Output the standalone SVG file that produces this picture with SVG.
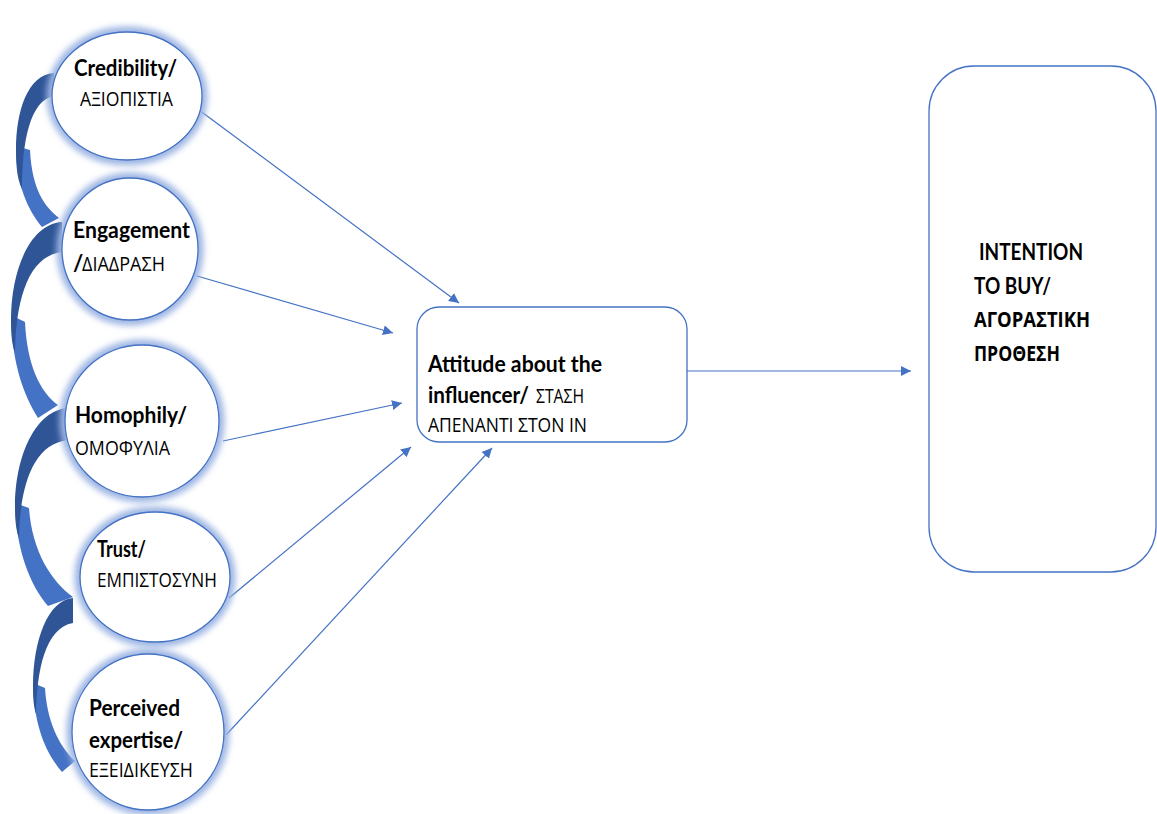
<svg xmlns="http://www.w3.org/2000/svg" width="1157" height="814" viewBox="0 0 1157 814">
<style>
.b{font-family:Lato,"Open Sans","Liberation Sans",sans-serif;font-weight:bold;fill:#000}
.g{font-family:"Open Sans","Noto Sans","DejaVu Sans",sans-serif;font-weight:normal;fill:#000}
.gb{font-family:"Open Sans","Noto Sans","DejaVu Sans",sans-serif;font-weight:bold;fill:#000}
.glow{fill:none;stroke:#9DB5E3;stroke-width:11;filter:url(#blur)}
.circ{fill:#fff;stroke:#4472C4;stroke-width:1.3}
.box{fill:#fff;stroke:#4472C4;stroke-width:1.3}
.dark{fill:#2F5597}
.light{fill:#4472C4}
.con{fill:none;stroke:#4472C4;stroke-width:1.2;marker-end:url(#ah)}
</style>
<defs>
<filter id="blur" x="-20%" y="-20%" width="140%" height="140%"><feGaussianBlur stdDeviation="3"/></filter>
<marker id="ah" markerUnits="userSpaceOnUse" markerWidth="12" markerHeight="10" refX="10" refY="5" orient="auto"><path d="M0,0 L10,5 L0,10 Z" fill="#4472C4"/></marker>
</defs>
<rect width="1157" height="814" fill="#fff"/>
<g id="curved-arrows">
<path class="light" d="M16,146 C16,185 28,210 42,227 L59,218 C45,207 32,190 30,150 Z"/>
<path class="dark" d="M54,73 C27,75 16,112 16,150 C16,170 18,181 22,189 C22,142 30,100 54,96 Z"/>
<path class="light" d="M11,315 C12,365 24,395 38,418 L58,405 C40,392 27,365 25,322 Z"/>
<path class="dark" d="M62,222 C30,224 11,270 11,320 C11,335 12,345 15,352 C16,300 28,256 62,252 Z"/>
<path class="light" d="M15,503 C16,550 30,585 48,606 L73,597 C52,582 32,552 29,508 Z"/>
<path class="dark" d="M68,408 C36,410 15,455 15,507 C15,520 16,530 19,538 C20,488 32,444 68,440 Z"/>
<path class="light" d="M33,683 C34,725 45,752 62,772 L75,761 C58,745 47,720 45,688 Z"/>
<path class="dark" d="M73,598 C48,600 33,640 33,687 C33,700 34,708 36,714 C37,670 45,628 73,623 Z"/>
</g>
<g id="connectors">
<line class="con" x1="199" y1="110" x2="459" y2="303"/>
<line class="con" x1="197" y1="276" x2="393" y2="333"/>
<line class="con" x1="223" y1="441" x2="402" y2="403"/>
<line class="con" x1="229" y1="598" x2="411" y2="447"/>
<line class="con" x1="226" y1="735" x2="492" y2="448"/>
<line class="con" x1="686" y1="371" x2="911" y2="371"/>
</g>
<g id="credibility">
<ellipse class="glow" cx="127" cy="96" rx="75" ry="64"/>
<ellipse class="circ" cx="127" cy="96" rx="75" ry="64"/>
<text class="b" x="74" y="76" font-size="22" textLength="103" lengthAdjust="spacingAndGlyphs">Credibility/</text>
<text class="g" x="80" y="106" font-size="20" textLength="93" lengthAdjust="spacingAndGlyphs">ΑΞΙΟΠΙΣΤΙΑ</text>
</g>
<g id="engagement">
<ellipse class="glow" cx="130" cy="249" rx="68" ry="71"/>
<ellipse class="circ" cx="130" cy="249" rx="68" ry="71"/>
<text class="b" x="73" y="238" font-size="22" textLength="117" lengthAdjust="spacingAndGlyphs">Engagement</text>
<text class="b" x="73" y="271" font-size="22">/</text>
<text class="g" x="82" y="271" font-size="20" textLength="83" lengthAdjust="spacingAndGlyphs">ΔΙΑΔΡΑΣΗ</text>
</g>
<g id="homophily">
<ellipse class="glow" cx="142" cy="421" rx="77" ry="76"/>
<ellipse class="circ" cx="142" cy="421" rx="77" ry="76"/>
<text class="b" x="75" y="423" font-size="22" textLength="112" lengthAdjust="spacingAndGlyphs">Homophily/</text>
<text class="g" x="75" y="455" font-size="20" textLength="95" lengthAdjust="spacingAndGlyphs">ΟΜΟΦΥΛΙΑ</text>
</g>
<g id="trust">
<ellipse class="glow" cx="155" cy="577" rx="75" ry="65"/>
<ellipse class="circ" cx="155" cy="577" rx="75" ry="65"/>
<text class="b" x="97" y="557" font-size="22" textLength="49" lengthAdjust="spacingAndGlyphs">Trust/</text>
<text class="g" x="97" y="587" font-size="20" textLength="120" lengthAdjust="spacingAndGlyphs">ΕΜΠΙΣΤΟΣΥΝΗ</text>
</g>
<g id="perceived-expertise">
<ellipse class="glow" cx="148" cy="732" rx="76" ry="78"/>
<ellipse class="circ" cx="148" cy="732" rx="76" ry="78"/>
<text class="b" x="89" y="716" font-size="22" textLength="91" lengthAdjust="spacingAndGlyphs">Perceived</text>
<text class="b" x="89" y="748" font-size="22" textLength="94" lengthAdjust="spacingAndGlyphs">expertise/</text>
<text class="g" x="89" y="777" font-size="20" textLength="104" lengthAdjust="spacingAndGlyphs">ΕΞΕΙΔΙΚΕΥΣΗ</text>
</g>
<g id="attitude">
<rect class="box" x="417" y="307" width="270" height="135" rx="22" ry="22"/>
<text class="b" x="428" y="372" font-size="23" textLength="174" lengthAdjust="spacingAndGlyphs">Attitude about the</text>
<text class="b" x="428" y="403" font-size="23" textLength="101" lengthAdjust="spacingAndGlyphs">influencer/</text>
<text class="g" x="536" y="403" font-size="20" textLength="48" lengthAdjust="spacingAndGlyphs">ΣΤΑΣΗ</text>
<text class="g" x="428" y="432" font-size="20" textLength="159" lengthAdjust="spacingAndGlyphs">ΑΠΕΝΑΝΤΙ ΣΤΟΝ ΙΝ</text>
</g>
<g id="intention">
<rect class="box" x="929" y="66" width="227" height="506" rx="45" ry="45"/>
<text class="b" x="979" y="260" font-size="22" textLength="104" lengthAdjust="spacingAndGlyphs">INTENTION</text>
<text class="b" x="974" y="294" font-size="22" textLength="77" lengthAdjust="spacingAndGlyphs">TO BUY/</text>
<text class="gb" x="974" y="327" font-size="21" textLength="116" lengthAdjust="spacingAndGlyphs">ΑΓΟΡΑΣΤΙΚΗ</text>
<text class="gb" x="974" y="361" font-size="21" textLength="86" lengthAdjust="spacingAndGlyphs">ΠΡΟΘΕΣΗ</text>
</g>
</svg>
